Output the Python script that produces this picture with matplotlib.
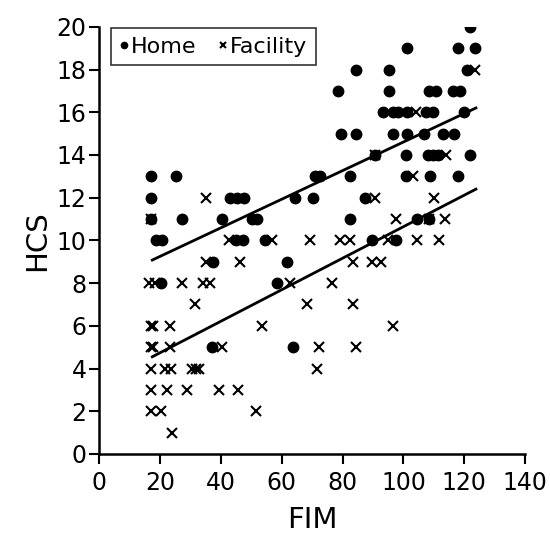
import numpy as np
import matplotlib
matplotlib.use('Agg')
from matplotlib import pyplot as plt

# Home group (filled dots): FIM, HCS
home_fim=[121.8,
	101.3,117.8,123.4,
	84.5,95.4,120.8,
	78.5,95.4,108.3,110.6,116.2,118.5,
	93.4,96.4,98.3,101.3,107.3,109.6,119.8,
	79.5,84.5,96.7,101.3,106.6,112.9,116.5,
	90.8,100.7,107.9,109.6,111.2,121.8,
	17.2,25.4,71.0,72.6,82.5,100.7,108.6,117.8,
	17.2,42.9,45.2,47.5,64.4,70.3,87.5,
	17.2,27.4,40.3,50.2,51.8,82.5,104.6,108.3,
	18.8,20.8,44.9,47.2,54.5,89.8,97.7,
	37.3,61.7,
	20.5,58.4,
	37.0,63.7]
home_hcs=[20,
	19,19,19,
	18,18,18,
	17,17,17,17,17,17,
	16,16,16,16,16,16,16,
	15,15,15,15,15,15,15,
	14,14,14,14,14,14,
	13,13,13,13,13,13,13,13,
	12,12,12,12,12,12,12,
	11,11,11,11,11,11,11,11,
	10,10,10,10,10,10,10,
	9,9,
	8,8,
	5,5]

# Facility group (crosses): FIM, HCS
fac_fim=[123.4,
	104.0,
	90.8,113.9,
	103.0,
	35.3,90.8,109.9,
	17.2,97.7,108.3,113.5,
	42.6,56.8,69.3,79.2,82.5,95.0,104.6,111.6,
	35.3,46.2,83.5,89.8,92.5,
	16.5,18.4,27.4,34.0,36.3,62.7,76.6,
	31.4,68.3,83.5,
	17.2,17.8,23.4,53.5,96.7,
	17.2,17.8,23.4,40.3,72.3,84.5,
	17.2,21.8,23.8,30.7,31.8,33.0,71.6,
	17.2,22.4,29.0,39.3,45.5,
	17.2,20.5,51.5,
	24.1]
fac_hcs=[18,
	16,
	14,14,
	13,
	12,12,12,
	11,11,11,11,
	10,10,10,10,10,10,10,10,
	9,9,9,9,9,
	8,8,8,8,8,8,8,
	7,7,7,
	6,6,6,6,6,
	5,5,5,5,5,5,
	4,4,4,4,4,4,4,
	3,3,3,3,3,
	2,2,2,
	1]

# regression lines as drawn (end points)
fit_fim=[17.5,123.8]
home_fit=[9.08,16.2]
fac_fit=[4.55,12.4]

def main():
	plt.rc('font',family='DejaVu Sans')
	fig=plt.figure(figsize=(5.5,5.36),dpi=100)
	ax=fig.add_axes([0.18,0.153,0.775,0.797])

	ax.plot(home_fim,home_hcs,'o',color='black',ms=7.5,ls='none',label='Home')
	ax.plot(fac_fim,fac_hcs,'x',color='black',ms=7.5,mew=1.5,ls='none',label='Facility')
	ax.plot(fit_fim,home_fit,color='black',lw=2)
	ax.plot(fit_fim,fac_fit,color='black',lw=2)

	ax.set_xlim(0,140)
	ax.set_ylim(0,20)
	ax.set_xticks(np.arange(0,141,20))
	ax.set_yticks(np.arange(0,21,2))
	ax.spines['top'].set_visible(False)
	ax.spines['right'].set_visible(False)
	for s in ['left','bottom']:
		ax.spines[s].set_linewidth(1.8)
	ax.tick_params(direction='out',length=7,width=1.5,labelsize=17)
	ax.tick_params(axis='x',pad=5)
	ax.tick_params(axis='y',pad=2)
	ax.set_xlabel('FIM',fontsize=21,labelpad=8)
	ax.set_ylabel('HCS',fontsize=21,labelpad=4)

	leg=ax.legend(loc='upper left',ncol=2,fontsize=16,frameon=True,fancybox=False,
		handlelength=0.4,handletextpad=0.1,columnspacing=1.0,markerscale=0.6,
		borderpad=0.4,borderaxespad=0,bbox_to_anchor=(0.028,0.998))
	leg.get_frame().set_edgecolor('black')
	leg.get_frame().set_linewidth(1.2)

	fig.savefig('out.png',dpi=100,facecolor='white')

if __name__ == '__main__':
	main()
